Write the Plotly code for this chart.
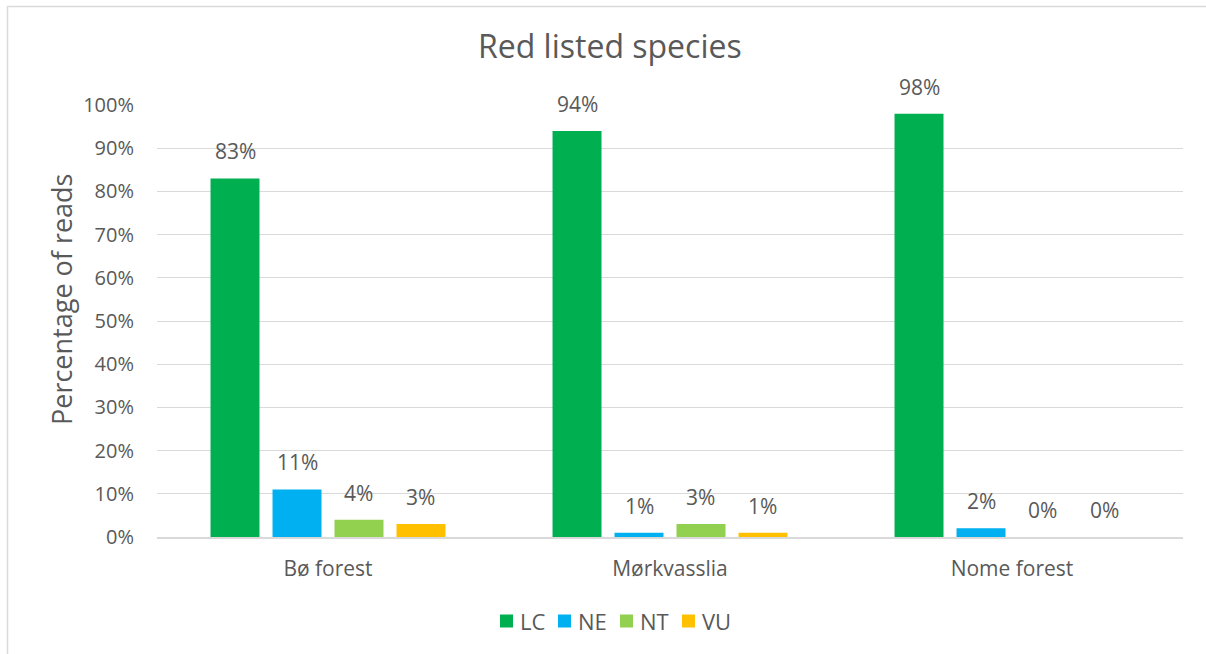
import plotly.graph_objects as go

# Sites and red-list categories
sites = ["Bø forest", "Mørkvasslia", "Nome forest"]
lc = [83, 94, 98]
ne = [11, 1, 2]
nt = [4, 3, 0]
vu = [3, 1, 0]

series = [("LC", lc, "#00B050"), ("NE", ne, "#00B0F0"),
          ("NT", nt, "#92D050"), ("VU", vu, "#FFC000")]

W, H = 1206, 654
L, R, T, B = 157, 23, 105, 117
BARGAP = 0.275
GROUPGAP = 0.21
TEXT = "#595959"
FONT = "Open Sans"

pw, ph = W - L - R, H - T - B
def px(x):
    return (x - L) / pw
def py(y):
    return (H - B - y) / ph

fig = go.Figure()
annotations = []
shapes = []
slot = (1 - BARGAP) / len(series)
for k, (name, vals, color) in enumerate(series):
    fig.add_trace(go.Bar(name=name, x=sites, y=vals, marker_color=color,
                         marker_line_width=0, showlegend=False))
    off = (k - (len(series) - 1) / 2) * slot
    for i, v in enumerate(vals):
        annotations.append(dict(x=i + off, y=v, xref="x", yref="y",
                                text=f"{v}%", showarrow=False,
                                yanchor="middle", yshift=27,
                                font=dict(size=21, color=TEXT, family=FONT)))

# Legend row: colour square followed by the category name
legend_x = [500, 558, 620, 682]
legend_y = 621
sq = 13
for (name, _, color), lx in zip(series, legend_x):
    shapes.append(dict(type="rect", xref="paper", yref="paper",
                       x0=px(lx), x1=px(lx + sq),
                       y0=py(legend_y + sq / 2), y1=py(legend_y - sq / 2),
                       fillcolor=color, line=dict(width=0)))
    annotations.append(dict(x=px(lx + sq + 5), y=py(legend_y), xref="paper",
                            yref="paper", text=name, showarrow=False,
                            xanchor="left", yanchor="middle",
                            font=dict(size=22, color=TEXT, family=FONT)))

# Y-axis title
annotations.append(dict(x=px(61), y=py(300), xref="paper", yref="paper",
                        text="Percentage of reads", textangle=-90,
                        showarrow=False, xanchor="center", yanchor="middle",
                        font=dict(size=27, color=TEXT, family=FONT)))
# Chart title
annotations.append(dict(x=px(610), y=py(46), xref="paper", yref="paper",
                        text="Red listed species", showarrow=False,
                        xanchor="center", yanchor="middle",
                        font=dict(size=32, color=TEXT, family=FONT)))

# Chart frame (top and left edges)
shapes.append(dict(type="path", xref="paper", yref="paper",
                   path=f"M {px(7.5)} {py(654)} L {px(7.5)} {py(6.5)} L {px(1206)} {py(6.5)}",
                   line=dict(color="#D9D9D9", width=1.5)))

fig.update_layout(
    width=W, height=H,
    margin=dict(l=L, r=R, t=T, b=B),
    paper_bgcolor="white", plot_bgcolor="white",
    barmode="group", bargap=BARGAP, bargroupgap=GROUPGAP,
    font=dict(family=FONT, color=TEXT, size=20),
    showlegend=False,
    annotations=annotations,
    shapes=shapes,
)
fig.update_yaxes(range=[0, 100], dtick=10, ticksuffix="%",
                 showgrid=True, gridcolor="#D9D9D9", gridwidth=1,
                 zeroline=False, showline=False, ticks="",
                 ticklabelstandoff=22,
                 tickfont=dict(size=20, color=TEXT, family=FONT))
fig.update_xaxes(showgrid=False, showline=True, linecolor="#D9D9D9",
                 linewidth=1.5, ticks="", ticklabelstandoff=12,
                 tickfont=dict(size=21, color=TEXT, family=FONT))

fig.write_html("out.html")
